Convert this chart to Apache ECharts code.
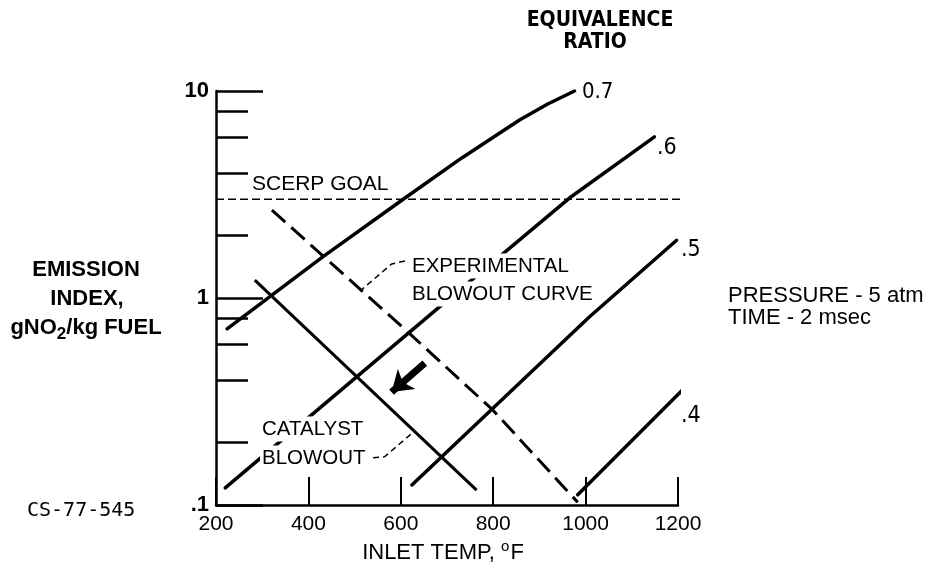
<!DOCTYPE html>
<html>
<head>
<meta charset="utf-8">
<title>Emission index vs inlet temperature</title>
<script src="https://cdn.jsdelivr.net/npm/echarts@6/dist/echarts.min.js"></script>
<style>
  html, body { margin: 0; padding: 0; background: #fff; }
  #chart { width: 931px; height: 575px; }
</style>
</head>
<body>
<div id="chart"></div>
<script>
// inlet temp (F) on x, emission index gNO2/kg fuel on a log y axis
const xTicks = [200, 400, 600, 800, 1000, 1200]
const yMajorTicks = [0.1, 1, 10]
const yMinorTicks = [0.2, 0.4, 0.6, 0.8, 2, 4, 6, 8]

// equivalence ratio curves
const ratio07 = [[224, 0.71], [431, 1.58], [609, 3.04], [732, 4.75], [857, 7.24], [918, 8.65], [976, 10]]
const ratio06 = [[220, 0.121], [669, 0.85], [965, 3.04], [1149, 6.0]]
const ratio05 = [[624, 0.125], [1008, 0.81], [1197, 1.9]]
const ratio04 = [[983, 0.112], [1210, 0.36]]

const scerpGoal = [[200, 3], [1238, 3]]
const experimentalBlowout = [[321, 2.66], [615, 0.686], [799, 0.288], [983, 0.103]]
const catalystBlowout = [[284, 1.22], [764, 0.118]]
const arrowTrend = [[652, 0.485], [580, 0.351]]

// leader lines from the labels
const expLeader = [[609, 1.51], [580, 1.46], [516, 1.10]]
const catLeader = [[540, 0.169], [565, 0.171], [630, 0.228]]

const FONT = "'Liberation Sans Narrow', 'DejaVu Sans Condensed', sans-serif"
const SANS = "'Liberation Sans', Arial, sans-serif"

let chart = echarts.init(document.getElementById('chart'))

function solid(name, data) {
  return {
    name: name,
    type: 'line',
    data: data,
    showSymbol: false,
    symbol: 'none',
    clip: false,
    lineStyle: { color: '#000', width: 3.5, cap: 'round', join: 'round' },
    z: 3
  }
}

function txt(text, x, y, size, weight, align, font) {
  return {
    type: 'text',
    z: 100,
    style: {
      text: text,
      x: x,
      y: y,
      fill: '#000',
      fontSize: size,
      fontWeight: weight || 'normal',
      fontFamily: font || SANS,
      textAlign: align || 'left',
      textVerticalAlign: 'middle'
    }
  }
}

function boxed(text, x, y) {
  let t = txt(text, x, y, 20.5, 'normal')
  t.style.backgroundColor = '#fff'
  t.style.padding = [2, 4, 2, 2]
  return t
}

let option = {
  backgroundColor: '#fff',
  animation: false,
  grid: { left: 216, right: 253, top: 91, bottom: 70, containLabel: false },
  xAxis: {
    type: 'value',
    min: 200,
    max: 1200,
    interval: 200,
    axisLine: { lineStyle: { color: '#000', width: 2.5 } },
    axisTick: { inside: true, length: 28, lineStyle: { color: '#000', width: 2 } },
    axisLabel: {
      color: '#000',
      fontSize: 21,
      fontFamily: SANS,
      margin: 9,
      customValues: xTicks,
      formatter: function (v) {
        return String(v)
      }
    },
    splitLine: { show: false }
  },
  yAxis: [{
    type: 'log',
    logBase: 10,
    min: 0.1,
    max: 10,
    axisLine: { show: true, lineStyle: { color: '#000', width: 2.5 } },
    axisTick: {
      inside: true,
      length: 47,
      customValues: yMajorTicks,
      lineStyle: { color: '#000', width: 2.5 }
    },
    axisLabel: {
      color: '#000',
      fontSize: 22,
      fontWeight: 'bold',
      fontFamily: SANS,
      margin: 7,
      customValues: yMajorTicks,
      formatter: function (v) {
        return v < 1 ? '.1' : String(Math.round(v))
      }
    },
    splitLine: { show: false }
  }, {
    type: 'log',
    logBase: 10,
    min: 0.1,
    max: 10,
    position: 'left',
    axisLine: { show: false },
    axisTick: {
      inside: true,
      length: 32,
      customValues: yMinorTicks,
      lineStyle: { color: '#000', width: 2.5 }
    },
    axisLabel: { show: false },
    splitLine: { show: false }
  }],
  series: [
    solid('0.7', ratio07),
    solid('.6', ratio06),
    solid('.5', ratio05),
    solid('.4', ratio04),
    {
      name: 'SCERP goal',
      type: 'line',
      data: scerpGoal,
      showSymbol: false,
      clip: false,
      lineStyle: { color: '#000', width: 1.6, type: [8, 4] }
    },
    {
      name: 'experimental blowout',
      type: 'line',
      data: experimentalBlowout,
      showSymbol: false,
      clip: false,
      lineStyle: { color: '#000', width: 3, type: [18, 8] }
    },
    {
      name: 'catalyst blowout',
      type: 'line',
      data: catalystBlowout,
      showSymbol: false,
      clip: false,
      lineStyle: { color: '#000', width: 3 }
    },
    {
      type: 'line',
      data: expLeader,
      showSymbol: false,
      lineStyle: { color: '#000', width: 1.5, type: [6, 4] }
    },
    {
      type: 'line',
      data: catLeader,
      showSymbol: false,
      lineStyle: { color: '#000', width: 1.5, type: [6, 4] }
    },
    {
      type: 'lines',
      coordinateSystem: 'cartesian2d',
      symbol: ['none', 'arrow'],
      symbolSize: 20,
      lineStyle: { color: '#000', width: 7, opacity: 1 },
      data: [{ coords: arrowTrend }]
    }
  ],
  graphic: [
    txt('EQUIVALENCE', 600, 21, 21, 'bold', 'center', FONT),
    txt('RATIO', 595, 43, 21, 'bold', 'center', FONT),
    txt('0.7', 582, 92, 22, 'normal', 'left', FONT),
    txt('.6', 657, 148, 23, 'normal', 'left', FONT),
    txt('.5', 681, 250, 23, 'normal', 'left', FONT),
    txt('.4', 681, 416, 23, 'normal', 'left', FONT),
    txt('SCERP GOAL', 252, 184, 21, 'normal', 'left'),
    boxed('EXPERIMENTAL', 410, 266),
    boxed('BLOWOUT CURVE', 410, 294),
    boxed('CATALYST', 260, 429),
    boxed('BLOWOUT', 260, 458),
    txt('PRESSURE - 5 atm', 728, 296, 22, 'normal', 'left'),
    txt('TIME - 2 msec', 728, 318, 22, 'normal', 'left'),
    txt('EMISSION', 86, 270, 22, 'bold', 'center'),
    txt('INDEX,', 87, 299, 22, 'bold', 'center'),
    {
      type: 'text',
      z: 100,
      style: {
        text: '{a|gNO}{s|2}{a|/kg FUEL}',
        x: 86,
        y: 328,
        textAlign: 'center',
        textVerticalAlign: 'middle',
        fill: '#000',
        rich: {
          a: { fontSize: 22, fontWeight: 'bold', fontFamily: SANS },
          s: { fontSize: 17, fontWeight: 'bold', fontFamily: SANS, padding: [12, 0, 0, 0] }
        }
      }
    },
    txt('CS-77-545', 27, 511, 20, 'normal', 'left', "'DejaVu Sans Mono', monospace"),
    {
      type: 'text',
      z: 100,
      style: {
        text: '{a|INLET TEMP, }{o|o}{a|F}',
        x: 443,
        y: 553,
        textAlign: 'center',
        textVerticalAlign: 'middle',
        fill: '#000',
        rich: {
          a: { fontSize: 22, fontFamily: SANS },
          o: { fontSize: 15, fontFamily: SANS, padding: [0, 1, 12, 0] }
        }
      }
    }
  ]
}

chart.setOption(option)
</script>
</body>
</html>
